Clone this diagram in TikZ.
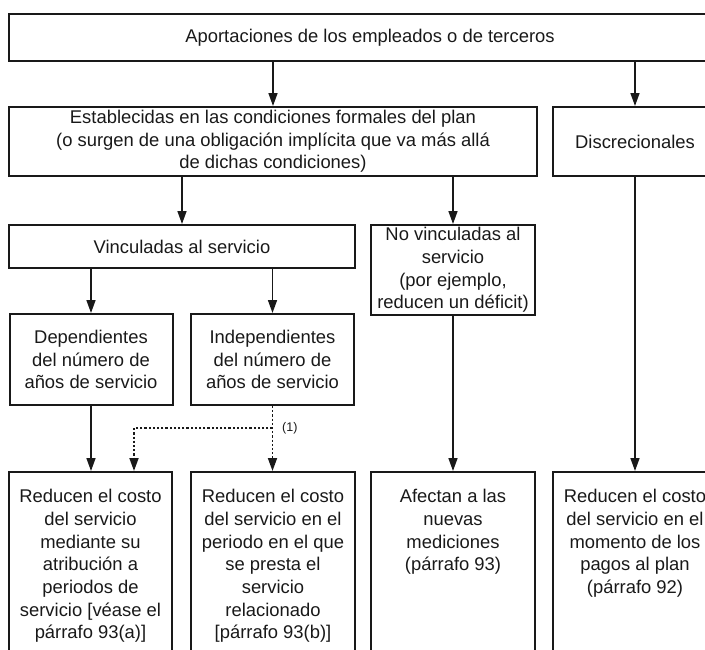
\documentclass[tikz,border=0pt]{standalone}
\usepackage{fontspec}
\setmainfont{Liberation Sans}
\usetikzlibrary{arrows.meta,calc}
\tikzset{
  box/.style={draw=black!90, line width=2pt, inner sep=0pt, align=center,
    font=\fontsize{18.4}{22.7}\selectfont, text=black!90},
  txt/.style={inner sep=0pt, align=center, font=\fontsize{18.4}{22.7}\selectfont, text=black!90},
  arr/.style={draw=black!90, line width=1.6pt, -{Triangle[length=13pt,width=9pt]}},
  darr/.style={arr, line width=1.8pt, dash pattern=on 2.2pt off 2pt},
  note/.style={inner sep=0pt, font=\fontsize{12.5}{14}\selectfont, text=black!90}
}
\begin{document}
\begin{tikzpicture}[x=1pt,y=-1pt]
\useasboundingbox (0,0) rectangle (705,649);
\clip (0,0) rectangle (705,649);

\node[box, minimum width=722pt, minimum height=47pt] (top) at (370,37.5)
  {Aportaciones de los empleados o de terceros};
\node[box, minimum width=528pt, minimum height=69pt] (est) at (273,141.5)
  {Establecidas en las condiciones formales del plan\\(o surgen de una obligación implícita que va más allá\\de dichas condiciones)};
\node[box, minimum width=164pt, minimum height=69pt] (disc) at (635,141.5)
  {Discrecionales};
\node[box, minimum width=346pt, minimum height=43pt] (vinc) at (182,246.5)
  {Vinculadas al servicio};
\node[box, minimum width=164pt, minimum height=90pt] (novinc) at (453,270)
  {No vinculadas al\\servicio\\(por ejemplo,\\reducen un déficit)};
\node[box, minimum width=163pt, minimum height=91pt] (dep) at (91,359.5)
  {Dependientes\\del número de\\años de servicio};
\node[box, minimum width=163pt, minimum height=91pt] (ind) at (272.5,359.5)
  {Independientes\\del número de\\años de servicio};

\node[box, minimum width=163pt, minimum height=188pt] (b1) at (90.5,566)
  {Reducen el costo\\del servicio\\mediante su\\atribución a\\periodos de\\servicio [véase el\\párrafo 93(a)]};
\node[box, minimum width=164pt, minimum height=188pt] (b2) at (273,566)
  {Reducen el costo\\del servicio en el\\periodo en el que\\se presta el\\servicio\\relacionado\\{}[párrafo 93(b)]};
\node[box, minimum width=164pt, minimum height=188pt] (b3) at (453,566) {};
\node[txt] (b3t) at (453,532) {Afectan a las\\nuevas\\mediciones\\(párrafo 93)};
\node[box, minimum width=164pt, minimum height=188pt] (b4) at (635,566) {};
\node[txt] (b4t) at (635,543.5) {Reducen el costo\\del servicio en el\\momento de los\\pagos al plan\\(párrafo 92)};

\draw[arr] (est.north |- top.south) -- (est.north);
\draw[arr] (disc.north |- top.south) -- (disc.north);
\draw[arr] (vinc.north |- est.south) -- (vinc.north);
\draw[arr] (novinc.north |- est.south) -- (novinc.north);
\draw[arr] (dep.north |- vinc.south) -- (dep.north);
\draw[arr] (ind.north |- vinc.south) -- (ind.north);
\draw[arr] (dep.south) -- (b1.north -| dep.south);
\draw[arr] (novinc.south) -- (b3.north);
\draw[arr] (disc.south) -- (b4.north);

\coordinate (j) at (ind.south |- 0,428);
\coordinate (k) at ($(b1.north)+(43.5,0)$);
\draw[darr] (ind.south) -- (b2.north -| ind.south);
\draw[darr] (j) -| (k);
\node[note, anchor=west] (n1) at (282,428) {(1)};
\end{tikzpicture}
\end{document}
